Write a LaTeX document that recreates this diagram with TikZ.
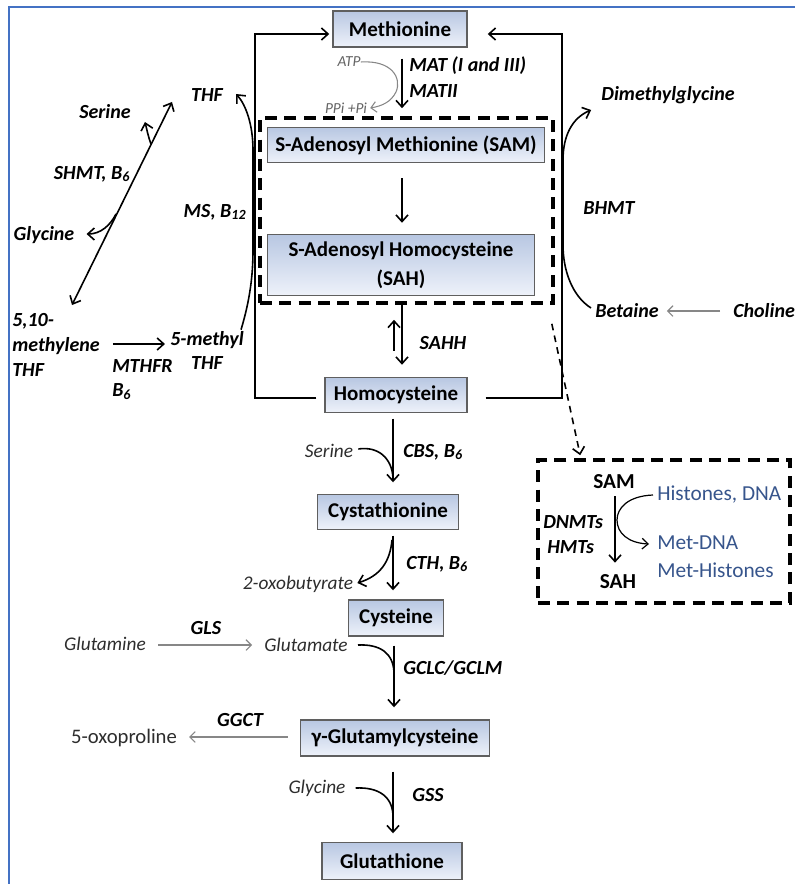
\documentclass[tikz,border=0pt]{standalone}
\usepackage{fontspec}
\setmainfont{Carlito}
\usetikzlibrary{arrows.meta,calc}
\definecolor{frameblue}{RGB}{68,114,196}
\definecolor{boxtop}{RGB}{184,199,226}
\definecolor{boxbot}{RGB}{238,242,250}
\definecolor{boxline}{RGB}{95,95,95}
\definecolor{txtgray}{RGB}{45,45,45}
\definecolor{ltgray}{RGB}{100,100,100}
\definecolor{arrgray}{RGB}{135,135,135}
\definecolor{insetblue}{RGB}{55,85,140}
\newcommand\boxfont{\fontsize{15.75}{21.75}\selectfont\bfseries}
\newcommand\labfont{\fontsize{15}{18}\selectfont\bfseries\itshape}
\newcommand\gtxfont{\fontsize{14.5}{16}\selectfont\itshape}
\newcommand\stxfont{\fontsize{11.5}{12}\selectfont\itshape}
\newcommand\insfont{\fontsize{16}{18}\selectfont}
\tikzset{
  box/.style={draw=boxline, line width=1.1pt, top color=boxtop, bottom color=boxbot,
    font=\boxfont, inner sep=0pt, align=center},
  lab/.style={font=\labfont, inner sep=0pt, align=left},
  gtx/.style={font=\gtxfont, text=txtgray, inner sep=0pt},
  stx/.style={font=\stxfont, text=ltgray, inner sep=0pt},
  ins/.style={font=\insfont, inner sep=0pt},
  arr/.style={line width=1.2pt, -{Straight Barb[length=5pt,width=9pt]}},
  line/.style={line width=1.2pt},
  garr/.style={line width=0.8pt, draw=arrgray, -{Straight Barb[length=4pt,width=8pt]}},
  dbox/.style={draw, line width=2.7pt, dash pattern=on 9pt off 5.5pt, inner sep=0pt},
}
\begin{document}
\begin{tikzpicture}[x=0.75pt,y=-0.75pt]
\useasboundingbox (0,0) rectangle (795,884);
% frame
\draw[frameblue, line width=1.5pt] (9,884) -- (9,7) -- (795,7);

% main boxes
\node[box, minimum width=100.5pt, minimum height=27pt] (meth) at (400,29) {Methionine};
\node[dbox, minimum width=219.75pt, minimum height=138.75pt] (dash) at (406.5,210.5) {};
\node[box, minimum width=207.75pt, minimum height=26.25pt] (sam) at (406,145) {S-Adenosyl Methionine (SAM)};
\node[box, minimum width=200.25pt, minimum height=45.75pt] (sah) at (401,265) {S-Adenosyl Homocysteine\\(SAH)};
\node[box, minimum width=106.5pt, minimum height=26.25pt] (hcy) at (396,395) {Homocysteine};
\node[box, minimum width=105.75pt, minimum height=26.25pt] (cysta) at (388,512) {Cystathionine};
\node[box, minimum width=71.25pt, minimum height=27pt] (cys) at (396,618) {Cysteine};
\node[box, minimum width=141.75pt, minimum height=27pt] (ggc) at (395,738) {γ-Glutamylcysteine};
\node[box, minimum width=105pt, minimum height=27.75pt] (gsh) at (392,861) {Glutathione};

% labels near methionine
\node[stx] (atp) at (349,62) {ATP};
\node[stx] (ppi) at (346,108) {PPi +Pi};
\node[lab, anchor=west] (mat) at (409,66) {MAT (I and III)};
\node[lab, anchor=west] (mat2) at (409,91) {MATII};
\node[lab] (sahh) at (443,343) {SAHH};

% left side
\node[lab] (thf) at (207,95) {THF};
\node[lab] (ser1) at (105,112) {Serine};
\node[lab] (shmt) at (92,174) {SHMT, B\textsubscript{6}};
\node[lab] (gly1) at (44,235) {Glycine};
\node[lab, anchor=west, font=\fontsize{15}{18.75}\selectfont\bfseries\itshape] (mthf) at (12,345) {5,10-\\methylene\\THF};
\node[lab, anchor=west] (mthfr) at (112,380) {MTHFR\\B\textsubscript{6}};
\node[lab, align=center] (methyl) at (207,350) {5-methyl\\THF};
\node[lab] (ms) at (215,212) {MS, B\textsubscript{12}};

% right side
\node[lab] (dmg) at (668,95) {Dimethylglycine};
\node[lab] (bhmt) at (609,208) {BHMT};
\node[lab] (bet) at (627,311) {Betaine};
\node[lab, anchor=west] (chol) at (733,311) {Choline};

% lower labels
\node[gtx] (ser2) at (329,451) {Serine};
\node[lab, anchor=west] (cbs) at (403,452) {CBS, B\textsubscript{6}};
\node[gtx] (oxob) at (298,584) {2-oxobutyrate};
\node[lab, anchor=west] (cth) at (406,564) {CTH, B\textsubscript{6}};
\node[gtx] (gln) at (105,644) {Glutamine};
\node[gtx] (glu) at (306,645) {Glutamate};
\node[lab] (gls) at (206,628) {GLS};
\node[lab, anchor=west] (gclc) at (403,668) {GCLC/GCLM};
\node[inner sep=0pt, font=\fontsize{15.5}{16}\selectfont, text=txtgray] (oxop) at (124,738) {5-oxoproline};
\node[lab] (ggct) at (240,720) {GGCT};
\node[gtx] (gly2) at (317,788) {Glycine};
\node[lab] (gss) at (428,795) {GSS};

% inset
\node[dbox, minimum width=189pt, minimum height=107.25pt] (inset) at (664,531.5) {};
\node[ins, font=\insfont\bfseries] (isam) at (614,482) {SAM};
\node[ins, font=\insfont\bfseries] (isah) at (618,582) {SAH};
\node[ins, text=insetblue, anchor=west] (hist) at (657,495) {Histones, DNA};
\node[ins, text=insetblue, anchor=west] (mdna) at (657,543) {Met-DNA};
\node[ins, text=insetblue, anchor=west] (mhis) at (657,570) {Met-Histones};
\node[lab, anchor=west] (dnmt) at (543,522) {DNMTs};
\node[lab, anchor=west] (hmt) at (547,547) {HMTs};

% outer loop
\coordinate (L1) at (255,398);
\coordinate (L2) at (255,34);
\coordinate (R1) at (562,398);
\coordinate (R2) at (562,34);
\draw[arr] ($(hcy.west)+(-8,3)$) -- (L1) -- (L2) -- ($(meth.west)+(-3,5)$);
\draw[arr] ($(hcy.east)+(18,3)$) -- (R1) -- (R2) -- ($(meth.east)+(20,5)$);

% methionine -> SAM
\draw[arr] ($(meth.south)+(2,11)$) -- ($(dash.north)+(-4.5,-8)$);
\draw[garr] (atp.east) .. controls (392,60) and (402,78) .. (396,92)
  .. controls (391,102) and (382,106) .. ($(ppi.east)+(3,0)$);
% SAM -> SAH
\draw[arr] ($(sam.south)+(-4,15)$) -- ($(sah.north)+(1,-11)$);
% SAH <-> Hcy
\draw[arr] ($(dash.south)+(-4.5,0)$) -- ($(hcy.north)+(6,-12)$);
\draw[arr] ($(hcy.north)+(-2,-26)$) -- ($(dash.south)+(-12.5,15)$);

% THF curve (MS)
\draw[arr] ($(methyl.north east)+(-3,-1)$) .. controls (250,300) and (253,275) .. (253,250)
  -- (253,150) .. controls (253,125) and (246,105) .. ($(thf.east)+(13,-1)$);
% SHMT double arrow
\coordinate (sh1) at (72,305);
\coordinate (sh2) at (172,102);
\draw[line width=1.2pt, {Straight Barb[length=5pt,width=9pt]}-{Straight Barb[length=5pt,width=9pt]}] (sh1) -- (sh2);
\coordinate (shs) at (151,144);
\coordinate (shg) at (116,214);
\draw[arr] (shs) .. controls (148,136) and (147,130) .. ($(ser1.east)+(14,10)$);
\draw[arr] (shg) .. controls (110,226) and (100,234) .. ($(gly1.east)+(12,-1)$);
% MTHFR
\draw[arr] ($(mthf.east)+(13,-1)$) -- ($(methyl.west)+(-5,-6)$);

% BHMT curve
\draw[arr] ($(bet.west)+(-4,-3)$) .. controls (572,296) and (563,270) .. (563,245)
  -- (563,160) .. controls (563,136) and (572,118) .. ($(dmg.west)+(-10,15)$);
\draw[garr] ($(chol.west)+(-13,0)$) -- ($(bet.east)+(8,0)$);

% lower pathway
\draw[arr] ($(hcy.south)+(-3,5.5)$) -- ($(cysta.north)+(5,-11.5)$);
\draw[line] ($(ser2.east)+(5,-2)$) .. controls (378,446) and (392,458) .. (393,478);
\draw[arr] ($(cysta.south)+(5,5.5)$) -- ($(cys.north)+(-3,-9)$);
\draw[arr] (392,540) .. controls (390,562) and (380,576) .. ($(oxob.east)+(4,-1)$);
\draw[arr] ($(cys.south)+(-2,9)$) -- ($(ggc.north)+(-1,-12)$);
\draw[line] ($(glu.east)+(10,0)$) .. controls (380,644) and (393,653) .. (394,672);
\draw[garr] ($(gln.east)+(12,1)$) -- ($(glu.west)+(-12,0)$);
\draw[garr] ($(ggc.west)+(-12,-1)$) -- ($(oxop.east)+(12,-1)$);
\draw[arr] ($(ggc.south)+(-2,15)$) -- ($(gsh.north)+(1,-8.5)$);
\draw[line] ($(gly2.east)+(10,0)$) .. controls (378,787) and (392,796) .. (393,815);

% dashed connector
\draw[line width=1.2pt, dash pattern=on 5pt off 4pt, -{Straight Barb[length=5pt,width=9pt]}]
  ($(dash.south east)+(-3,19)$) -- ($(inset.north west)+(44,-3)$);

% inset arrows
\draw[arr] ($(isam.south)+(1,7)$) -- ($(isah.north)+(-3,-12)$);
\draw[line width=0.9pt, -{Straight Barb[length=4.5pt,width=8pt]}] ($(hist.west)+(-4,0)$) .. controls (628,496) and (617,508) .. (617,520)
  .. controls (617,533) and (628,543) .. ($(mdna.west)+(-8,1)$);
\end{tikzpicture}
\end{document}
